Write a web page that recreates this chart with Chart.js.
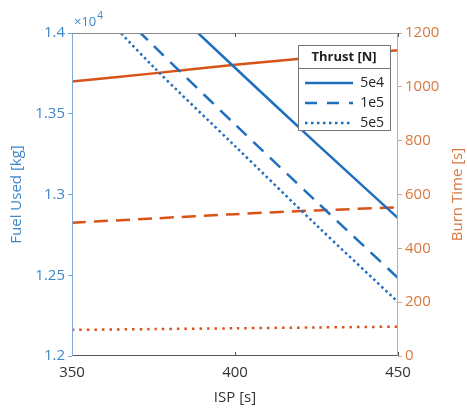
<!DOCTYPE html>
<html>
<head>
<meta charset="utf-8">
<script src="https://cdn.jsdelivr.net/npm/chart.js@4"></script>
<style>
  html, body { margin: 0; padding: 0; background: #fff; }
  #wrap { width: 467px; height: 410px; }
</style>
</head>
<body>
<div id="wrap"><canvas id="ispChart" width="467" height="410"></canvas></div>
<script>
// values
const isp = [350, 375, 400, 425, 450];
const thrustLabels = ['5e4', '1e5', '5e5'];
const fuel5e4 = [14745, 14260, 13785, 13315, 12854];
const fuel1e5 = [14418, 13921, 13434, 12956, 12483];
const fuel5e5 = [14320, 13790, 13300, 12810, 12334];
const burn5e4 = [1020, 1050, 1082, 1110, 1136];
const burn1e5 = [495, 511, 527, 541, 552];
const burn5e5 = [97, 100, 103, 106, 109];
const fuelTicks = [12000, 12500, 13000, 13500, 14000];
const burnTicks = [0, 200, 400, 600, 800, 1000, 1200];

const blue = '#1f6fbf';
const orange = '#d95319';
const blueText = '#3f86c8';
const orangeText = '#d9773f';
const font = "'Open Sans', sans-serif";

function pts(ys) {
    return ys.map((y, i) => ({ x: isp[i], y: y }));
}

function lineSet(label, ys, axis, color, dash) {
    return {
        label: label,
        data: pts(ys),
        yAxisID: axis,
        borderColor: color,
        borderWidth: 2.5,
        borderDash: dash,
        pointRadius: 0,
        tension: 0.3,
        fill: false
    };
}

const datasets = [
    lineSet(thrustLabels[0], fuel5e4, 'y', blue, []),
    lineSet(thrustLabels[1], fuel1e5, 'y', blue, [14, 9]),
    lineSet(thrustLabels[2], fuel5e5, 'y', blue, [2.5, 3]),
    lineSet('burn ' + thrustLabels[0], burn5e4, 'y1', orange, []),
    lineSet('burn ' + thrustLabels[1], burn1e5, 'y1', orange, [14, 8]),
    lineSet('burn ' + thrustLabels[2], burn5e5, 'y1', orange, [2.5, 5])
];

// frame, inward x ticks, exponent, right title and the legend box
const extras = {
    id: 'extras',
    afterDatasetsDraw(chart) {
        const ctx = chart.ctx;
        const a = chart.chartArea;
        const xs = chart.scales.x;
        ctx.save();
        ctx.lineWidth = 1;
        ctx.strokeStyle = '#8a8a8a';
        ctx.beginPath();
        ctx.moveTo(a.left, a.top + 0.5);
        ctx.lineTo(a.right, a.top + 0.5);
        ctx.stroke();
        ctx.strokeStyle = '#555';
        ctx.beginPath();
        ctx.moveTo(a.left, a.bottom - 0.5);
        ctx.lineTo(a.right, a.bottom - 0.5);
        xs.ticks.forEach(t => {
            const px = Math.round(xs.getPixelForValue(t.value)) + 0.5;
            ctx.moveTo(px, a.bottom);
            ctx.lineTo(px, a.bottom - 4);
            ctx.moveTo(px, a.top);
            ctx.lineTo(px, a.top + 4);
        });
        ctx.stroke();
        ctx.strokeStyle = '#7fa9d6';
        ctx.beginPath();
        ctx.moveTo(a.left + 0.5, a.top);
        ctx.lineTo(a.left + 0.5, a.bottom);
        ctx.stroke();
        ctx.strokeStyle = '#e3a27f';
        ctx.beginPath();
        ctx.moveTo(a.right - 0.5, a.top);
        ctx.lineTo(a.right - 0.5, a.bottom);
        ctx.stroke();

        // exponent
        ctx.fillStyle = blueText;
        ctx.textAlign = 'left';
        ctx.textBaseline = 'alphabetic';
        ctx.font = '13px ' + font;
        ctx.fillText('\u00d710', a.left + 2, 26);
        const w = ctx.measureText('\u00d710').width;
        ctx.font = '10px ' + font;
        ctx.fillText('4', a.left + 2 + w + 1, 19);

        // right axis title
        ctx.save();
        ctx.translate(458, (a.top + a.bottom) / 2);
        ctx.rotate(-Math.PI / 2);
        ctx.fillStyle = orangeText;
        ctx.font = '15px ' + font;
        ctx.textAlign = 'center';
        ctx.textBaseline = 'middle';
        ctx.fillText('Burn Time [s]', 0, 0);
        ctx.restore();

        // legend
        const lx = 298, ly = 45, lw = 92, lh = 85;
        ctx.fillStyle = '#fff';
        ctx.fillRect(lx, ly, lw, lh);
        ctx.strokeStyle = '#777';
        ctx.lineWidth = 1;
        ctx.strokeRect(lx + 0.5, ly + 0.5, lw, lh);
        ctx.beginPath();
        ctx.moveTo(lx, 68.5);
        ctx.lineTo(lx + lw, 68.5);
        ctx.stroke();
        ctx.fillStyle = '#222';
        ctx.font = 'bold 13px ' + font;
        ctx.textAlign = 'center';
        ctx.textBaseline = 'middle';
        ctx.fillText('Thrust [N]', lx + lw / 2, 57);
        ctx.font = '14px ' + font;
        ctx.textAlign = 'right';
        const legendDash = [[], [12, 10], [2.5, 3.5]];
        thrustLabels.forEach((lab, i) => {
            const yy = 83 + i * 20;
            ctx.strokeStyle = blue;
            ctx.lineWidth = 2.5;
            ctx.setLineDash(legendDash[i]);
            ctx.beginPath();
            ctx.moveTo(305, yy);
            ctx.lineTo(353, yy);
            ctx.stroke();
            ctx.setLineDash([]);
            ctx.fillStyle = '#222';
            ctx.fillText(lab, 384, yy);
        });
        ctx.restore();
    }
};

const ctx = document.getElementById('ispChart');
const ispChart = new Chart(ctx, {
    type: 'line',
    data: { datasets: datasets },
    options: {
        responsive: false,
        animation: false,
        layout: { padding: { top: 33, left: 0, right: 0, bottom: 0 } },
        plugins: { legend: { display: false }, tooltip: { enabled: false } },
        scales: {
            x: {
                type: 'linear',
                min: 350,
                max: 450,
                afterFit: s => { s.height = 54; },
                afterBuildTicks: s => { s.ticks = isp.filter(v => v % 50 === 0).map(v => ({ value: v })); },
                grid: { display: false, drawTicks: false },
                border: { display: false },
                ticks: { color: '#333', padding: 8, font: { family: font, size: 15 } },
                title: { display: true, text: 'ISP [s]', color: '#333', padding: { top: 2, bottom: 3 }, font: { family: font, size: 15 } }
            },
            y: {
                position: 'left',
                min: 12000,
                max: 14000,
                afterFit: s => { s.width = 72; },
                afterBuildTicks: s => { s.ticks = fuelTicks.map(v => ({ value: v })); },
                grid: { drawOnChartArea: false, drawTicks: true, tickLength: 4, color: '#7fa9d6' },
                border: { display: false },
                ticks: {
                    color: blueText,
                    padding: 3,
                    font: { family: font, size: 15 },
                    callback: v => String(+(v / 10000).toFixed(2))
                },
                title: { display: true, text: 'Fuel Used [kg]', color: blueText, padding: { top: 8, bottom: 0 }, font: { family: font, size: 15 } }
            },
            y1: {
                position: 'right',
                min: 0,
                max: 1200,
                afterFit: s => { s.width = 69; },
                afterBuildTicks: s => { s.ticks = burnTicks.map(v => ({ value: v })); },
                grid: { drawOnChartArea: false, drawTicks: true, tickLength: 4, color: '#e3a27f' },
                border: { display: false },
                ticks: { color: orangeText, padding: 3, font: { family: font, size: 15 }, callback: v => String(v) }
            }
        }
    },
    plugins: [extras]
});
</script>
</body>
</html>
